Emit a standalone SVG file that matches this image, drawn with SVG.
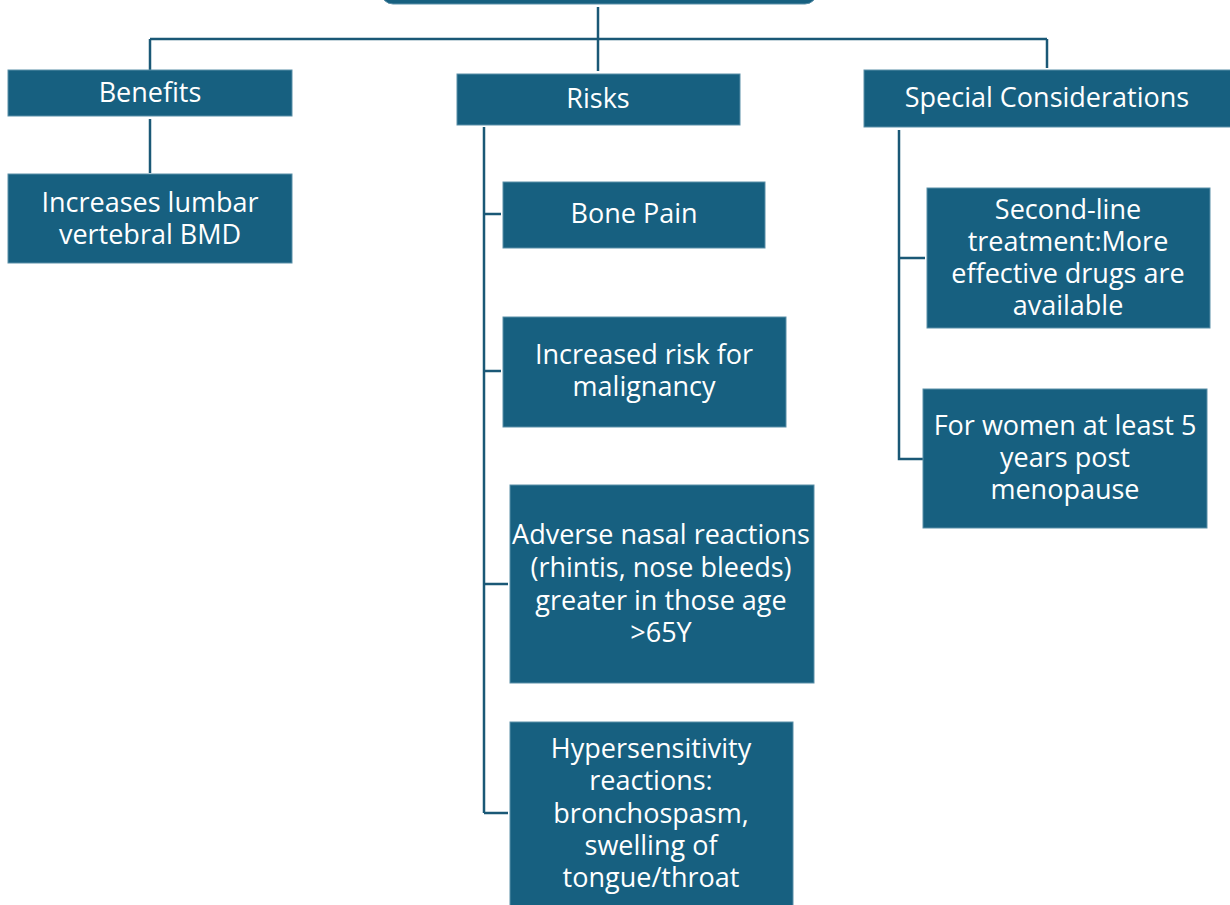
<svg xmlns="http://www.w3.org/2000/svg" width="1230" height="905" viewBox="0 0 1230 905">
<style>
.box{fill:#176080;stroke:#5b8fa8;stroke-width:1}
.t{font-family:"Open Sans","Noto Sans","Liberation Sans",sans-serif;font-size:27px;fill:#ffffff;text-anchor:middle}
.c{fill:none;stroke:#1a5876;stroke-width:2.5}
</style>
<rect width="1230" height="905" fill="#ffffff"/>
<g id="connectors">
<path class="c" d="M598,7 V71"/>
<path class="c" d="M150,39 H1047"/>
<path class="c" d="M150,39 V70"/>
<path class="c" d="M1047,39 V68"/>
<path class="c" d="M150,119 V173"/>
<path class="c" d="M484,127 V813 M484,214 H501 M484,371 H501 M484,584 H508 M484,813 H508"/>
<path class="c" d="M899,130 V459 H923 M899,258 H925"/>
</g>
<g id="root"><rect class="box" x="381" y="-40" width="436" height="44" rx="12"/></g>
<g id="benefits"><rect class="box" x="8" y="70" width="284" height="46"/><text class="t" x="150" y="102">Benefits</text></g>
<g id="lumbar"><rect class="box" x="8" y="174" width="284" height="89"/><text class="t" x="150" y="212">Increases lumbar</text><text class="t" x="150" y="244">vertebral BMD</text></g>
<g id="risks"><rect class="box" x="457" y="74" width="283" height="51"/><text class="t" x="598" y="108">Risks</text></g>
<g id="bonepain"><rect class="box" x="503" y="182" width="262" height="66"/><text class="t" x="634" y="223">Bone Pain</text></g>
<g id="malignancy"><rect class="box" x="503" y="317" width="283" height="110"/><text class="t" x="644" y="364">Increased risk for</text><text class="t" x="644" y="396">malignancy</text></g>
<g id="nasal"><rect class="box" x="510" y="485" width="304" height="198"/><text class="t" x="661" y="544">Adverse nasal reactions</text><text class="t" x="661" y="577">(rhintis, nose bleeds)</text><text class="t" x="661" y="610">greater in those age</text><text class="t" x="661" y="642">&gt;65Y</text></g>
<g id="hypersensitivity"><rect class="box" x="510" y="722" width="283" height="190"/><text class="t" x="651" y="758">Hypersensitivity</text><text class="t" x="651" y="790">reactions:</text><text class="t" x="651" y="823">bronchospasm,</text><text class="t" x="651" y="855">swelling of</text><text class="t" x="651" y="887">tongue/throat</text></g>
<g id="special"><rect class="box" x="864" y="70" width="370" height="57"/><text class="t" x="1047" y="107">Special Considerations</text></g>
<g id="secondline"><rect class="box" x="927" y="188" width="283" height="140"/><text class="t" x="1068" y="219">Second-line</text><text class="t" x="1068" y="251">treatment:More</text><text class="t" x="1068" y="283">effective drugs are</text><text class="t" x="1068" y="315">available</text></g>
<g id="women"><rect class="box" x="923" y="389" width="284" height="139"/><text class="t" x="1065" y="435">For women at least 5</text><text class="t" x="1065" y="467">years post</text><text class="t" x="1065" y="499">menopause</text></g>
</svg>
